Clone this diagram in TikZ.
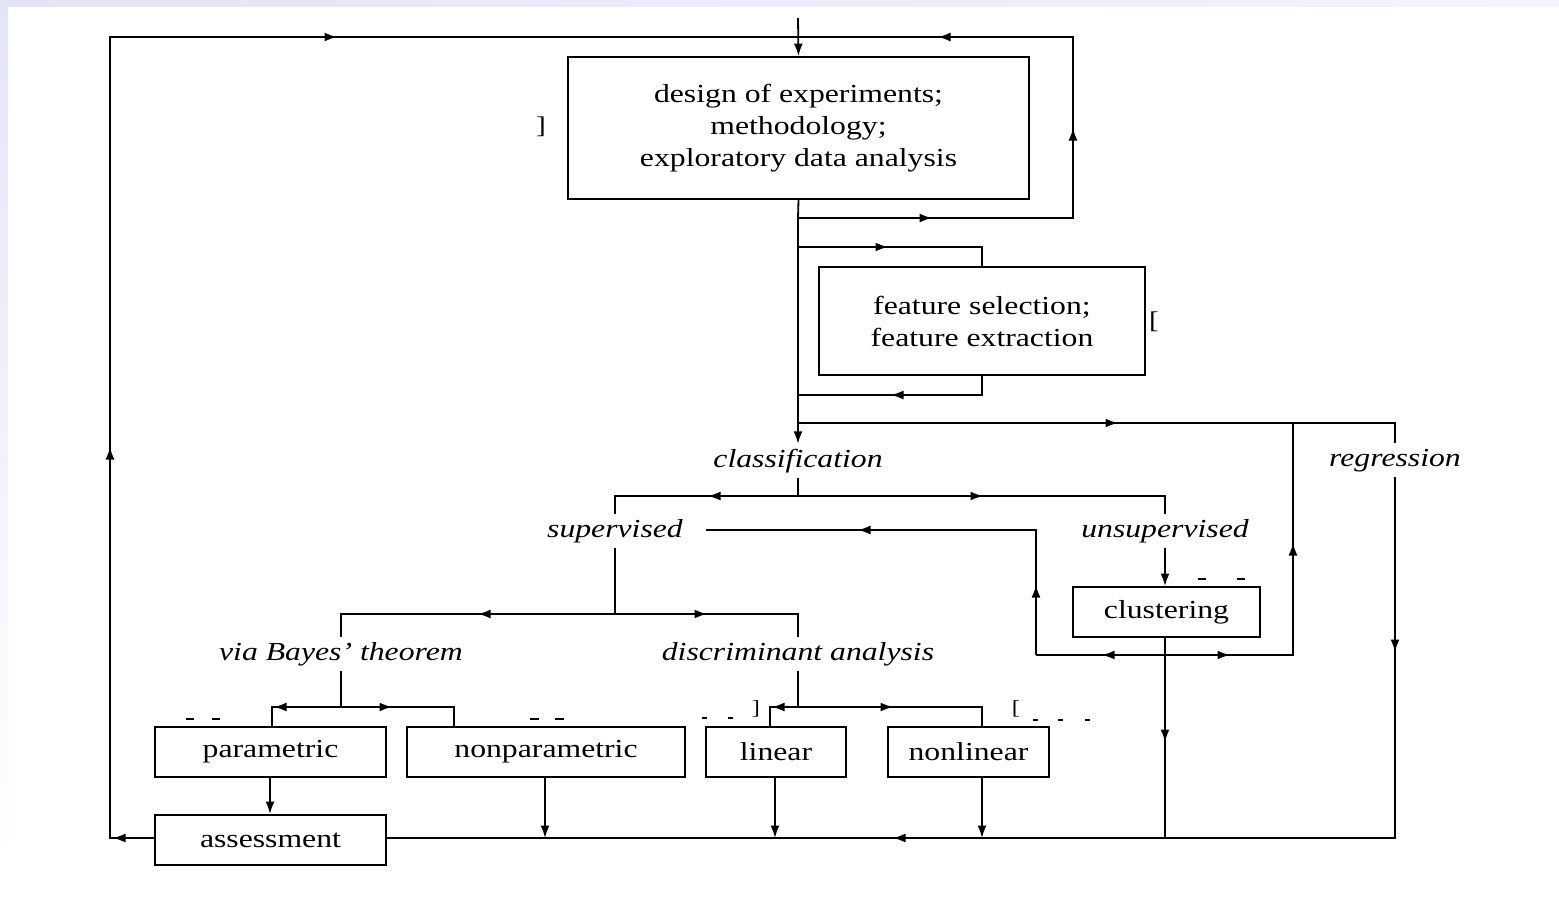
\documentclass[tikz,border=0pt]{standalone}
\usepackage{fontspec}
\setmainfont{Liberation Serif}[FakeStretch=1.22]
\usetikzlibrary{arrows.meta,calc}
\definecolor{lav}{RGB}{228,228,248}
\tikzset{
  ln/.style={line width=1.8pt},
  thin ln/.style={line width=1.4pt},
  tip/.style={-{Latex[length=12.5pt,width=9pt]}},
  arr/.style={line width=1.8pt,tip},
  box/.style={draw,line width=1.9pt,inner sep=0pt,align=center,font=\fontsize{26}{32}\selectfont},
  lbl/.style={inner sep=0pt,minimum height=34pt,text height=18pt,text depth=6pt,font=\fontsize{26}{32}\selectfont\itshape},
  mk/.style={inner sep=0pt,font=\fontsize{24}{28}\selectfont},
  dsh/.style={line width=1.6pt},
}
\begin{document}
\begin{tikzpicture}[x=1pt,y=-1pt]
% background / margins
\useasboundingbox (0,0) rectangle (1559,914);
\fill[white] (0,0) rectangle (1559,914);
\shade[left color=lav,right color=white!60!lav] (0,0) rectangle (1559,6);
\shade[top color=lav,bottom color=white] (0,0) rectangle (8,860);

% boxes
\node[box,minimum width=461pt,minimum height=142pt] (design) at (798.5,128) {design of experiments;\\methodology;\\exploratory data analysis};
\node[box,minimum width=326pt,minimum height=108pt] (feature) at (982,321) {feature selection;\\feature extraction};
\node[box,minimum width=187pt,minimum height=50pt] (clust) at (1166.5,612) {clustering};
\node[box,minimum width=231pt,minimum height=50pt] (param) at (270.5,752) {parametric};
\node[box,minimum width=278pt,minimum height=50pt] (nonparam) at (546,752) {nonparametric};
\node[box,minimum width=140pt,minimum height=50pt] (linear) at (776,752) {linear};
\node[box,minimum width=161pt,minimum height=50pt] (nonlinear) at (968.5,752) {nonlinear};
\node[box,minimum width=231pt,minimum height=50pt] (assess) at (270.5,840) {assessment};

% labels
\node[lbl] (class) at (798,461) {classification};
\node[lbl] (regr) at (1395,460) {regression};
\node[lbl] (sup) at (615,531) {supervised};
\node[lbl] (unsup) at (1165,531) {unsupervised};
\node[lbl] (bayes) at (341,654) {via Bayes’ theorem};
\node[lbl] (disc) at (798,654) {discriminant analysis};

% stray marks
\node[mk] (m1) at (541,127) {]};
\node[mk] (m2) at (1154,322) {[};
\node[mk,font=\fontsize{20}{24}\selectfont] (m3) at (756,709) {]};
\node[mk,font=\fontsize{20}{24}\selectfont] (m4) at (1016,709) {[};
\foreach \a/\b/\y in {186/194/719,212/220/719,530/539/719,555/564/719,702/707/718,728/733/718,1033/1038/720,1058/1063/720,1085/1090/720,1198/1206/579,1237/1245/579}
  \draw[dsh] (\a,\y) -- (\b,\y);

% coordinates
\coordinate (in) at (798,18);
\coordinate (tl) at (110,37);
\coordinate (tr) at (1073,37);
\coordinate (j1) at (798,218);
\coordinate (rl) at (1073,218);
\coordinate (j2) at (798,247);
\coordinate (fa) at (982,247);
\coordinate (fb) at (982,395);
\coordinate (j3) at (798,395);
\coordinate (j4) at (798,423);
\coordinate (rg) at (1395,423);
\coordinate (cr) at (1293,423);
\coordinate (bl) at (110,838);
\coordinate (br) at (1395,838);
\coordinate (cx) at (1165,655);

% top input and outer feedback loop
\draw[arr] (in) -- (design.north);
\draw[ln] (assess.west |- bl) -- (bl) -- (tl) -- (tr) -- (rl) -- (j1);
\draw[arr] (assess.west |- bl) -- (113,838);
\draw[arr] (bl) -- (110,447);
\draw[arr] (tl) -- (337,37);
\draw[arr] (tr) -- (938,37);
\draw[arr] (rl) -- (1073,128);
\draw[arr] (j1) -- (932,218);

% main trunk
\draw[ln] (design.south) -- (j1) -- (j2) -- (j3) -- (j4);
\draw[arr] (j4) -- (class.north);

% feature loop
\draw[ln] (j2) -- (fa) -- (fa |- feature.north);
\draw[arr] (j2) -- (888,247);
\draw[ln] (fb |- feature.south) -- (fb) -- (j3);
\draw[arr] (fb) -- (891,395);

% regression branch
\draw[ln] (j4) -- (rg) -- (regr.north);
\draw[arr] (j4) -- (1118,423);
\draw[ln] (regr.south) -- (br) -- (assess.east |- br);
\draw[arr] (regr.south) -- (1395,652);
\draw[arr] (br) -- (893,838);

% classification split
\draw[thin ln] (class.south) -- (798,496);
\draw[thin ln] (sup.north) -- (615,496) -- (1165,496) -- (unsup.north);
\draw[thin ln,tip] (798,496) -- (708,496);
\draw[thin ln,tip] (798,496) -- (983,496);

% unsupervised -> clustering
\draw[arr] (unsup.south) -- (unsup.south |- clust.north);
\draw[ln] (cx |- clust.south) -- (cx |- br);
\draw[arr] (cx |- clust.south) -- (1165,742);
\draw[ln] (1036,655) -- (cr |- cx) -- (cr);
\draw[arr] (cx) -- (1102,655);
\draw[arr] (cx) -- (1230,655);
\draw[arr] (cr |- cx) -- (1293,543);
\draw[ln] (1036,655) -- (1036,530) -- (706,530);
\draw[arr] (1036,655) -- (1036,585);
\draw[arr] (1036,530) -- (858,530);

% supervised split
\draw[thin ln] (sup.south) -- (615,614);
\draw[ln] (bayes.north) -- (341,614) -- (798,614) -- (disc.north);
\draw[arr] (615,614) -- (478,614);
\draw[arr] (615,614) -- (707,614);

% bayes split
\draw[thin ln] (bayes.south) -- (341,707);
\draw[ln] (param.north -| 272,0) -- (272,707) -- (454,707) -- (nonparam.north -| 454,0);
\draw[arr] (341,707) -- (274,707);
\draw[arr] (341,707) -- (392,707);

% discriminant split
\draw[ln] (disc.south) -- (798,707);
\draw[ln] (linear.north -| 770,0) -- (770,707) -- (982,707) -- (nonlinear.north -| 982,0);
\draw[arr] (798,707) -- (772,707);
\draw[arr] (798,707) -- (893,707);

% to assessment / bottom line
\draw[arr] (param.south -| 270,0) -- (assess.north -| 270,0);
\draw[arr] (nonparam.south -| 545,0) -- (545,838);
\draw[arr] (linear.south -| 775,0) -- (775,838);
\draw[arr] (nonlinear.south -| 982,0) -- (982,838);
\end{tikzpicture}
\end{document}
